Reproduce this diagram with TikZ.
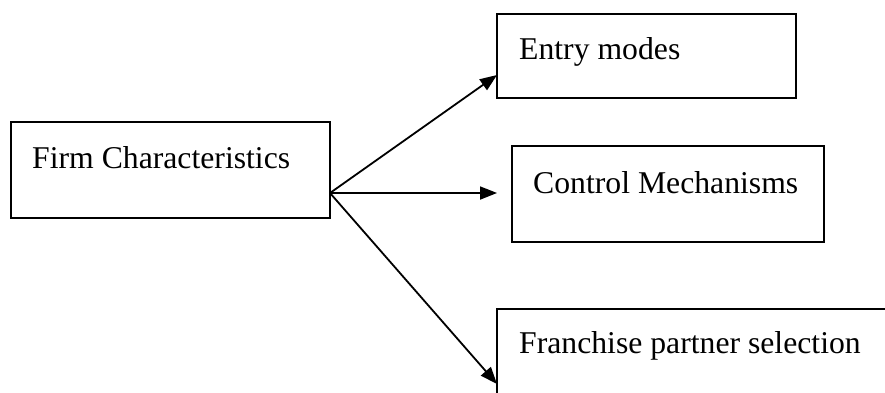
\documentclass[tikz,border=0pt]{standalone}
\usepackage{fontspec}
\setmainfont{Liberation Serif}
\usetikzlibrary{arrows.meta}
\begin{document}
\begin{tikzpicture}[x=1pt,y=-1pt,
  box/.style={draw=black,line width=2pt,fill=none},
  label/.style={anchor=base west,inner sep=0pt,font=\fontsize{31.7}{38}\selectfont},
  link/.style={line width=1.8pt,-{Triangle[length=17pt,width=13pt]}}]
\path[use as bounding box] (0,0) rectangle (885,392);
\clip (0,0) rectangle (885,392);
\fill[white] (0,0) rectangle (885,392);
% boxes
\draw[box] (11,122) rectangle (330,218);
\coordinate (firm) at (11,122);
\draw[box] (497,14) rectangle (796,98);
\coordinate (entry) at (497,14);
\draw[box] (512,146) rectangle (824,242);
\coordinate (control) at (512,146);
\draw[box] (497,309) rectangle (900,410);
\coordinate (franchise) at (497,309);
% texts
\node[label] (tfirm) at (32,168) {Firm Characteristics};
\node[label] (tentry) at (519,59) {Entry modes};
\node[label] (tcontrol) at (533,193) {Control Mechanisms};
\node[label] (tfranchise) at (519,353) {Franchise partner selection};
% connectors
\coordinate (src) at (330,193);
\coordinate (toentry) at (497,75);
\coordinate (tocontrol) at (497,193);
\coordinate (tofranchise) at (497,384);
\draw[link] (src) -- (toentry);
\draw[link] (src) -- (tocontrol);
\draw[link] (src) -- (tofranchise);
\end{tikzpicture}
\end{document}
